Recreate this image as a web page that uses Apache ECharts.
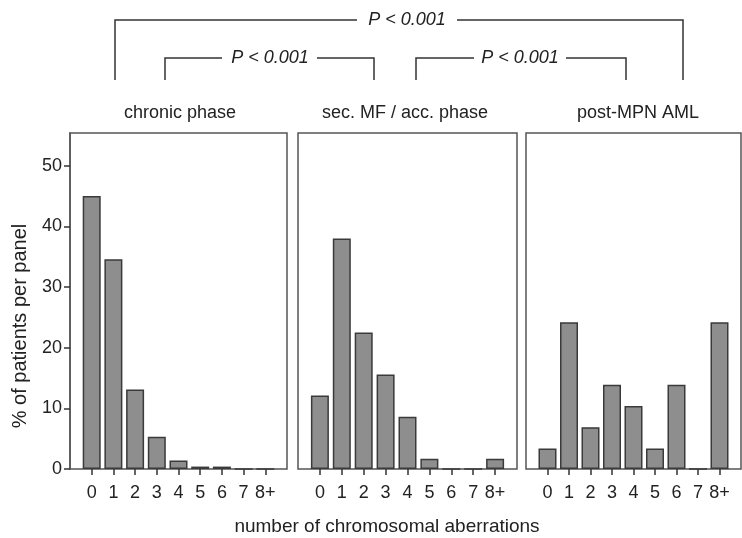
<!DOCTYPE html>
<html>
<head>
<meta charset="utf-8">
<script src="https://cdn.jsdelivr.net/npm/echarts@6/dist/echarts.min.js"></script>
<style>
  html, body { margin: 0; padding: 0; background: #fff; }
  #chart { width: 742px; height: 538px; }
</style>
</head>
<body>
<div id="chart"></div>
<script>
// number of aberrations (x categories)
const categories = ['0', '1', '2', '3', '4', '5', '6', '7', '8+'];
// % of patients per panel
const chronicPhase = [45.0, 34.6, 13.1, 5.3, 1.4, 0.4, 0.4, 0, 0];
const secMfAccPhase = [12.1, 38.0, 22.5, 15.6, 8.6, 1.7, 0, 0, 1.7];
const postMpnAml = [3.4, 24.2, 6.9, 13.9, 10.4, 3.4, 13.9, 0, 24.2];
const yTicks = [0, 10, 20, 30, 40, 50];
const panelTitles = ['chronic phase', 'sec. MF / acc. phase', 'post-MPN AML'];
const pText = 'P < 0.001';

const FONT = '"Liberation Sans", Arial, sans-serif';
const TXT = '#222';
const LINE = '#333';

const chart = echarts.init(document.getElementById('chart'));

// panel placement
const panels = [
  { left: 70, width: 217 },
  { left: 298, width: 219 },
  { left: 526, width: 215 }
];
const series = [chronicPhase, secMfAccPhase, postMpnAml];

const grid = panels.map(p => ({
  left: p.left, top: 133, width: p.width, height: 336,
  show: true, borderColor: '#555', borderWidth: 1.5, backgroundColor: 'transparent'
}));

const xAxis = panels.map((p, i) => ({
  type: 'value', gridIndex: i, min: -1, max: 9,
  splitLine: { show: false },
  axisLine: { show: false },
  axisTick: { show: true, length: 6, customValues: categories.map((c, k) => k),
    lineStyle: { color: LINE, width: 1.5 } },
  axisLabel: { customValues: categories.map((c, k) => k), margin: 15,
    formatter: v => categories[v], fontSize: 18, color: TXT, fontFamily: FONT }
}));

const yAxis = panels.map((p, i) => ({
  type: 'value', gridIndex: i, min: 0, max: 55.4,
  splitLine: { show: false },
  axisLine: { show: i === 0, onZero: false, lineStyle: { color: '#555', width: 1.5 } },
  axisTick: { show: i === 0, length: 6, customValues: yTicks, lineStyle: { color: LINE, width: 1.5 } },
  axisLabel: { show: i === 0, customValues: yTicks, margin: 8, fontSize: 18, color: TXT, fontFamily: FONT }
}));

const barSeries = series.map((vals, i) => ({
  type: 'bar', xAxisIndex: i, yAxisIndex: i,
  barWidth: 18,
  itemStyle: { color: '#8e8e8e', borderColor: '#3a3a3a', borderWidth: 1.5 },
  data: vals.map((v, k) => [k, v])
}));

// significance brackets
function bracket(x1, x2, y, yEnd, xt, gapL, gapR) {
  return [
    { type: 'polyline', shape: { points: [[x1, yEnd], [x1, y], [gapL, y]] },
      style: { stroke: LINE, lineWidth: 1.5, fill: null } },
    { type: 'polyline', shape: { points: [[gapR, y], [x2, y], [x2, yEnd]] },
      style: { stroke: LINE, lineWidth: 1.5, fill: null } },
    { type: 'text', x: xt, y: y, style: { text: pText, fontSize: 18, fontStyle: 'italic',
      fontFamily: FONT, fill: TXT, align: 'center', verticalAlign: 'middle' } }
  ];
}

const titleCenters = [180, 405, 638];
const graphic = [].concat(
  bracket(115, 683, 20, 80, 407, 357, 457),
  bracket(165, 374, 58, 80, 270, 222, 317),
  bracket(416, 626, 58, 80, 520, 474, 566),
  panelTitles.map((t, i) => ({
    type: 'text', x: titleCenters[i], y: 113,
    style: { text: t, fontSize: 18, fontFamily: FONT, fill: TXT, align: 'center', verticalAlign: 'middle' }
  })),
  [
    { type: 'text', x: 387, y: 527,
      style: { text: 'number of chromosomal aberrations', fontSize: 19, fontFamily: FONT,
        fill: TXT, align: 'center', verticalAlign: 'middle' } },
    { type: 'text', x: 20, y: 326, rotation: Math.PI / 2,
      style: { text: '% of patients per panel', fontSize: 20, fontFamily: FONT,
        fill: TXT, align: 'center', verticalAlign: 'middle' } }
  ]
);

chart.setOption({
  animation: false,
  grid: grid,
  xAxis: xAxis,
  yAxis: yAxis,
  series: barSeries,
  graphic: graphic
});
</script>
</body>
</html>
